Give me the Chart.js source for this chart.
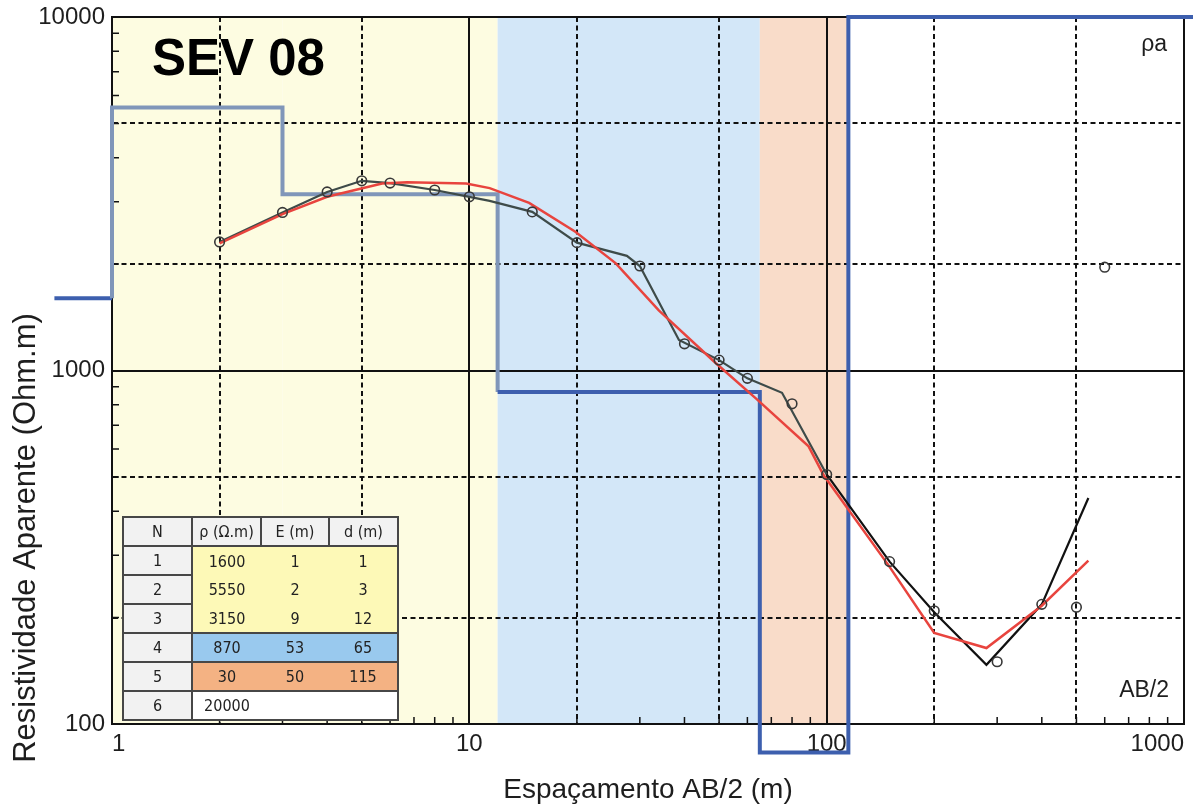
<!DOCTYPE html>
<html>
<head>
<meta charset="utf-8">
<title>SEV 08</title>
<script src="https://cdn.jsdelivr.net/npm/chart.js@4.4.1/dist/chart.umd.min.js"></script>
<style>
  html, body { margin: 0; padding: 0; background: #ffffff; }
  #wrap { position: relative; width: 1193px; height: 810px; overflow: hidden; }
  #chart { position: absolute; left: 0; top: 0; }
  #layers {
    position: absolute; left: 122px; top: 516px;
    border-collapse: collapse;
    font-family: 'Liberation Sans Narrow', 'DejaVu Sans Condensed', 'Liberation Sans', sans-serif;
    font-stretch: condensed;
    font-size: 16px; color: #222;
  }
  #layers th, #layers td { padding: 0; text-align: center; }
  #layers th { height: 27px; background: #f2f2f2; border: 2px solid #474747; font-weight: normal; }
  #layers td { height: 27px; border: none; }
  #layers td.n { background: #f2f2f2; border: 2px solid #474747; }
  #layers td.last { border-right: 2px solid #474747; }
  #layers td.start { border-top: 2px solid #474747; }
  #layers tr:last-child td { border-bottom: 2px solid #474747; }
</style>
</head>
<body>
<div id="wrap">
  <canvas id="chart" width="1193" height="810"></canvas>
  <table id="layers">
    <colgroup><col style="width:69px"><col style="width:69px"><col style="width:68px"><col style="width:69px"></colgroup>
    <thead><tr><th>N</th><th>ρ (Ω.m)</th><th>E (m)</th><th>d (m)</th></tr></thead>
    <tbody></tbody>
  </table>
</div>
<script>
// Apparent resistivity readings (AB/2 in m, rho_a in Ohm.m)
const abHalf      = [2, 3, 4, 5, 6, 8, 10, 15, 20, 30, 40, 50, 60, 80, 100, 150, 200, 300, 400, 500, 600];
const rhoApparent = [2310, 2800, 3200, 3440, 3390, 3240, 3100, 2810, 2300, 1975, 1190, 1070, 950, 805, 508, 288, 209, 150, 218, 214, 1960];

// Field curve drawn through the readings
const fieldCurveX   = [2, 3, 4, 5, 6, 8, 10, 11.4, 15, 20, 27.6, 30, 38.6, 50, 60, 75, 100, 150, 200, 280, 400, 540];
const fieldCurveRho = [2310, 2800, 3200, 3440, 3390, 3240, 3100, 3020, 2810, 2300, 2110, 1975, 1220, 1070, 950, 865, 508, 288, 207, 147, 218, 436];

// Calculated curve of the layered model
const modelCurveX   = [2, 3, 4, 5.7, 6.7, 9.8, 11.4, 14.7, 19.8, 25.7, 33.9, 48.9, 63.7, 89, 98, 149, 200, 280, 400, 540];
const modelCurveRho = [2290, 2770, 3100, 3380, 3410, 3380, 3280, 2980, 2470, 2010, 1480, 1050, 830, 610, 506, 281, 181, 164, 216, 290];

// Layered model: resistivity, thickness and depth to base of each layer
const layerN   = [1, 2, 3, 4, 5, 6];
const layerRho = [1600, 5550, 3150, 870, 30, 20000];
const layerE   = [1, 2, 9, 53, 50, null];
const layerD   = [1, 3, 12, 65, 115, null];
const layerGroup = [0, 0, 0, 1, 2, 3];

// Axis tick labels
const xTickValues = [1, 10, 100, 1000];
const xTickLabels = ['1', '10', '100', '1000'];
const yTickValues = [100, 1000, 10000];
const yTickLabels = ['100', '1000', '10000'];

// Colours per layer group (plot band, table cell)
const bandColors  = ['#fdfce1', '#d3e7f8', '#f9dcc9', '#ffffff'];
const tableColors = ['#fdf9b7', '#99c9ee', '#f4b283', '#ffffff'];

// Stepped model line extends slightly past the frame and is limited vertically
const modelLeftX = 0.69, modelRightX = 1100, rhoFloor = 83, rhoCeil = 10000;
const clampRho = r => Math.min(rhoCeil, Math.max(rhoFloor, r));

const stepPoints = [{ x: modelLeftX, y: clampRho(layerRho[0]) }];
layerD.forEach((d, i) => {
  if (d == null) return;
  stepPoints.push({ x: d, y: clampRho(layerRho[i]) });
  stepPoints.push({ x: d, y: clampRho(layerRho[i + 1]) });
});
stepPoints.push({ x: modelRightX, y: clampRho(layerRho[layerRho.length - 1]) });

const zip = (xs, ys) => xs.map((x, i) => ({ x, y: ys[i] }));

// Layer table
const tbody = document.querySelector('#layers tbody');
layerN.forEach((n, i) => {
  const tr = document.createElement('tr');
  const g = layerGroup[i];
  const isStart = i === 0 || layerGroup[i - 1] !== g;
  const cells = [n, layerRho[i], layerE[i], layerD[i]];
  cells.forEach((v, c) => {
    const td = document.createElement('td');
    td.textContent = v == null ? '' : String(v);
    if (c === 0) {
      td.className = 'n';
    } else {
      td.style.background = tableColors[g];
      const cls = [];
      if (c === 3) cls.push('last');
      if (isStart) cls.push('start');
      td.className = cls.join(' ');
    }
    tr.appendChild(td);
  });
  tbody.appendChild(tr);
});

Chart.defaults.font.family = "'Liberation Sans', Arial, sans-serif";
Chart.defaults.color = '#1e1e1e';

// 'solid' at decades, 'dash' at 2x and 5x, null elsewhere
const gridKind = v => {
  const e = Math.floor(Math.log10(v) + 1e-9);
  const m = v / Math.pow(10, e);
  if (Math.abs(m - 1) < 1e-6) return 'solid';
  if (Math.abs(m - 2) < 1e-6 || Math.abs(m - 5) < 1e-6) return 'dash';
  return null;
};
const labelFor = (v, vals, labels) => {
  const i = vals.findIndex(t => Math.abs(t - v) < 1e-6 * t);
  return i >= 0 ? labels[i] : '';
};

const gridStyle = {
  drawTicks: false,
  color: c => (c.tick && gridKind(c.tick.value)) ? '#111111' : 'rgba(0,0,0,0)',
  lineWidth: c => (c.tick && gridKind(c.tick.value)) ? 2 : 0
};
const borderStyle = {
  display: true, color: '#111111', width: 2,
  dash: c => (c.tick && gridKind(c.tick.value) === 'dash') ? [5, 3.5] : []
};

// Bands, inner ticks and annotations
const decorPlugin = {
  id: 'sevDecor',
  beforeDraw(chart) {
    const { ctx, chartArea: a, scales: { x } } = chart;
    ctx.save();
    let prev = x.min;
    layerRho.forEach((r, i) => {
      const end = layerD[i] == null ? x.max : Math.min(layerD[i], x.max);
      if (end > prev) {
        const x0 = x.getPixelForValue(prev);
        const x1 = x.getPixelForValue(end);
        ctx.fillStyle = bandColors[layerGroup[i]];
        ctx.fillRect(x0, a.top, x1 - x0, a.bottom - a.top);
        prev = end;
      }
    });
    ctx.restore();
  },
  beforeDatasetsDraw(chart) {
    const { ctx, chartArea: a, scales: { x, y } } = chart;
    ctx.save();
    ctx.strokeStyle = '#111';
    ctx.lineWidth = 1.5;
    ctx.beginPath();
    const minor = (scale, cb) => {
      for (let k = Math.floor(Math.log10(scale.min)); k < Math.ceil(Math.log10(scale.max)); k++) {
        for (let m = 2; m <= 9; m++) {
          const v = m * Math.pow(10, k);
          if (v > scale.min && v < scale.max) cb(scale.getPixelForValue(v));
        }
      }
    };
    minor(x, px => { ctx.moveTo(px, a.bottom); ctx.lineTo(px, a.bottom - 7); });
    minor(y, py => { ctx.moveTo(a.left, py); ctx.lineTo(a.left + 7, py); });
    ctx.stroke();
    ctx.restore();
  },
  afterDraw(chart) {
    const { ctx, chartArea: a } = chart;
    ctx.save();
    ctx.fillStyle = '#000';
    ctx.font = "bold 51px 'Liberation Sans', Arial, sans-serif";
    ctx.textAlign = 'left';
    ctx.textBaseline = 'alphabetic';
    ctx.fillText('SEV 08', a.left + 40, a.top + 58);

    ctx.fillStyle = '#1e1e1e';
    ctx.font = "23px 'Liberation Sans', Arial, sans-serif";
    ctx.textAlign = 'right';
    ctx.fillText('ρa', a.right - 17, a.top + 34);
    ctx.fillText('AB/2', a.right - 15, a.bottom - 27);

    ctx.font = "31px 'Liberation Sans', Arial, sans-serif";
    ctx.textAlign = 'center';
    ctx.translate(35, 538);
    ctx.rotate(-Math.PI / 2);
    ctx.fillText('Resistividade Aparente (Ohm.m)', 0, 0);
    ctx.restore();
  }
};

new Chart(document.getElementById('chart'), {
  type: 'line',
  data: {
    datasets: [
      {
        label: 'ρa',
        data: zip(abHalf, rhoApparent),
        showLine: false,
        pointRadius: 4.8,
        pointBorderWidth: 1.6,
        pointBorderColor: '#383838',
        pointBackgroundColor: 'rgba(0,0,0,0)'
      },
      {
        label: 'Curva calculada',
        data: zip(modelCurveX, modelCurveRho),
        borderColor: '#e8443e',
        borderWidth: 2.5,
        pointRadius: 0,
        tension: 0
      },
      {
        label: 'Curva de campo',
        data: zip(fieldCurveX, fieldCurveRho),
        borderColor: '#3e4b49',
        borderWidth: 2.2,
        pointRadius: 0,
        tension: 0,
        segment: { borderColor: c => c.p0.parsed.x >= 100 ? '#111111' : '#3e4b49' }
      },
      {
        label: 'Modelo',
        data: stepPoints,
        borderWidth: 4,
        borderColor: '#3d5fae',
        pointRadius: 0,
        tension: 0,
        clip: false,
        borderJoinStyle: 'miter',
        segment: {
          borderColor: c => {
            const a = c.p0.parsed.x, b = c.p1.parsed.x;
            return (Math.min(a, b) >= 1 && Math.max(a, b) <= 12) ? '#8096b9' : '#3d5fae';
          }
        }
      }
    ]
  },
  options: {
    responsive: false,
    animation: false,
    events: [],
    layout: { padding: { left: 0, top: 17, right: 9, bottom: 0 } },
    plugins: { legend: { display: false }, tooltip: { enabled: false } },
    scales: {
      x: {
        type: 'logarithmic',
        min: 1, max: 1000,
        grid: gridStyle,
        border: borderStyle,
        ticks: {
          autoSkip: false, maxRotation: 0, minRotation: 0,
          align: 'inner', padding: 6,
          font: { size: 24 },
          callback: v => labelFor(v, xTickValues, xTickLabels)
        },
        title: {
          display: true,
          text: 'Espaçamento AB/2 (m)',
          font: { size: 28 },
          padding: { top: 0, bottom: 3 }
        },
        afterFit: s => { s.height = 86; s.paddingLeft = 0; s.paddingRight = 0; }
      },
      y: {
        type: 'logarithmic',
        min: 100, max: 10000,
        grid: gridStyle,
        border: borderStyle,
        ticks: {
          autoSkip: false, padding: 7,
          font: { size: 24 },
          callback: v => labelFor(v, yTickValues, yTickLabels)
        },
        afterFit: s => { s.width = 112; s.paddingTop = 0; s.paddingBottom = 0; }
      }
    }
  },
  plugins: [decorPlugin]
});
</script>
</body>
</html>
